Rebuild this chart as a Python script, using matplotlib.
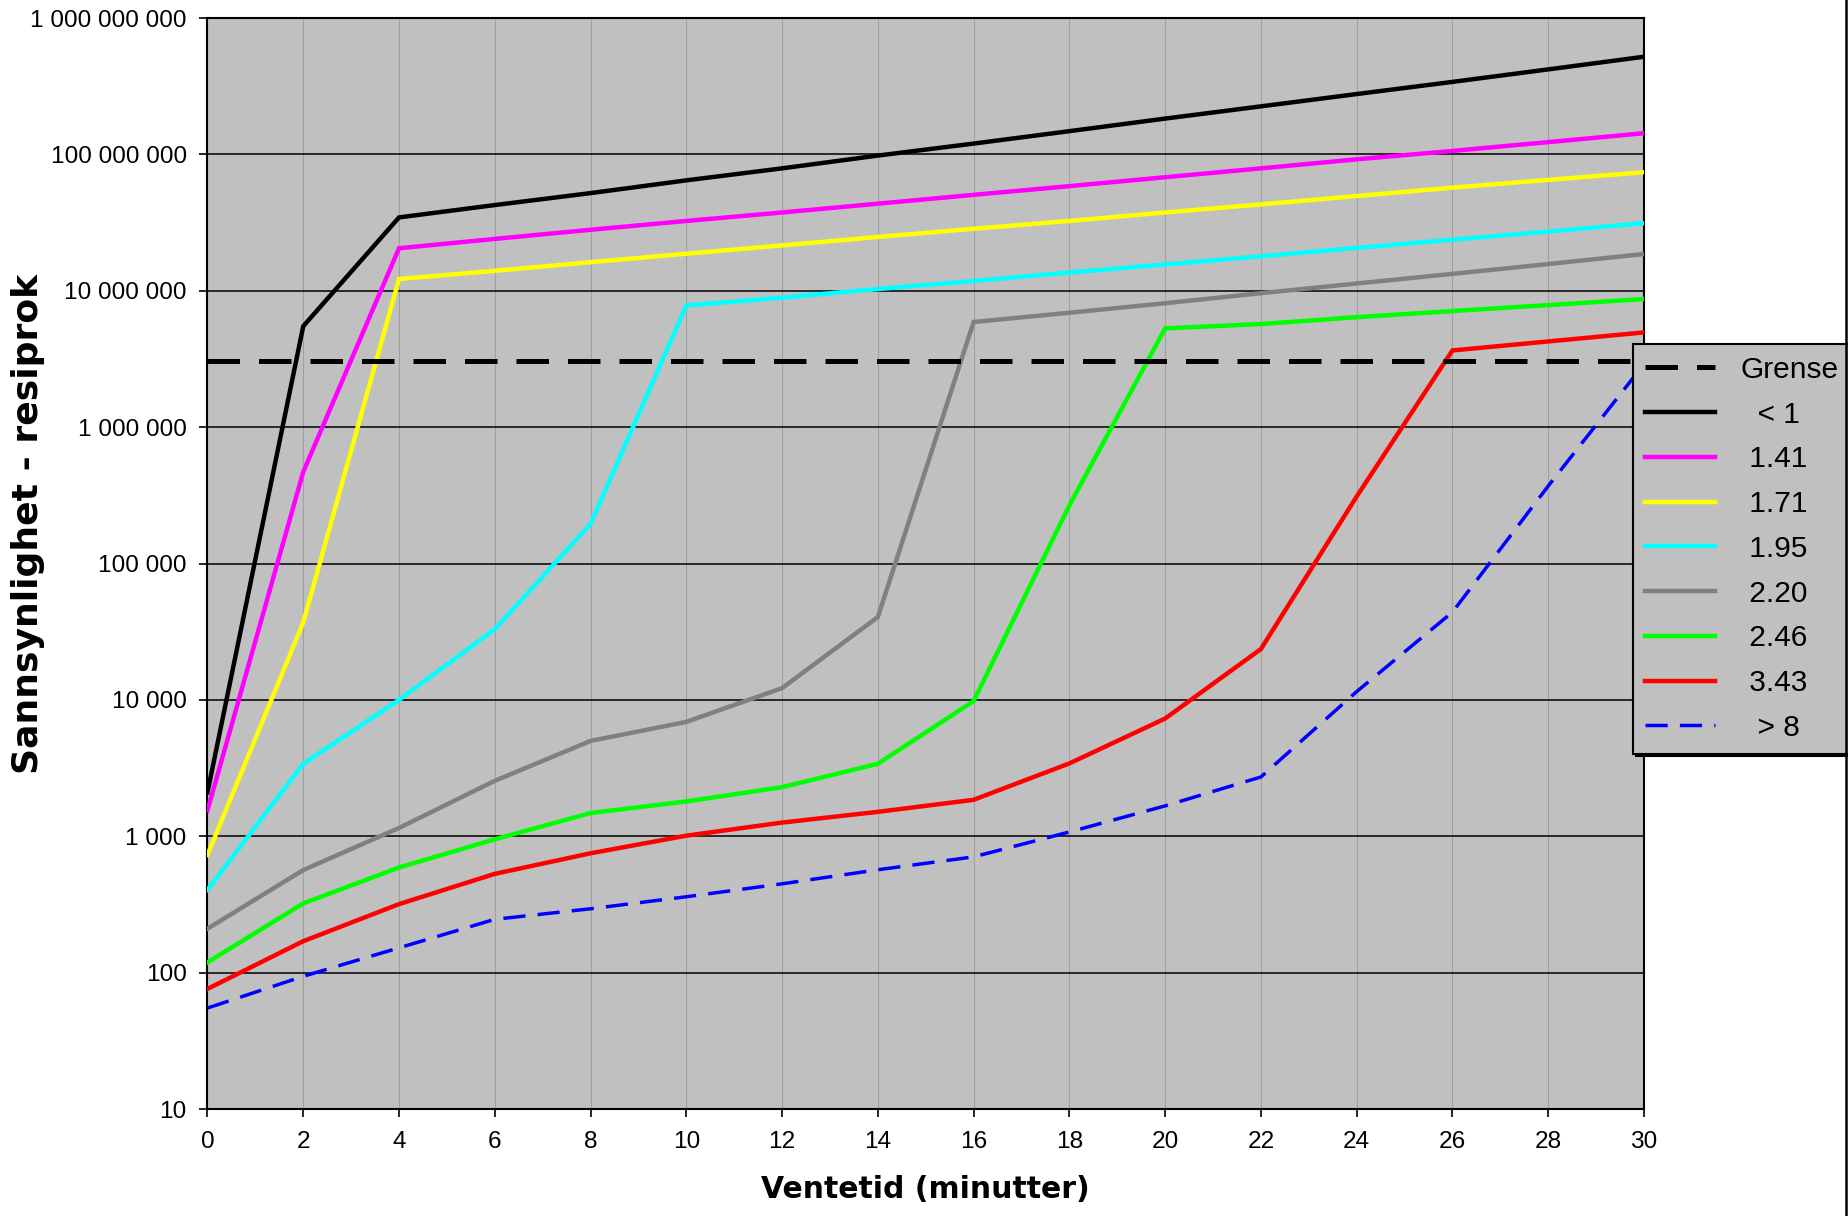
import matplotlib
matplotlib.use('Agg')
import matplotlib.pyplot as plt
from matplotlib.lines import Line2D

# data (log scale values)
minutes = [0, 2, 4, 6, 8, 10, 12, 14, 16, 18, 20, 22, 24, 26, 28, 30]
grense = 3.04e6
s_lt1 = [2100, 5.5e6, 3.45e7, 4.25e7, 5.2e7, 6.45e7, 7.9e7, 9.8e7, 1.2e8, 1.48e8, 1.83e8, 2.25e8, 2.77e8, 3.4e8, 4.2e8, 5.2e8]
s_141 = [1550, 4.7e5, 2.05e7, 2.4e7, 2.8e7, 3.25e7, 3.75e7, 4.35e7, 5.05e7, 5.85e7, 6.8e7, 7.9e7, 9.2e7, 1.06e8, 1.23e8, 1.43e8]
s_171 = [730, 3.7e4, 1.22e7, 1.4e7, 1.62e7, 1.87e7, 2.15e7, 2.48e7, 2.85e7, 3.25e7, 3.75e7, 4.3e7, 4.95e7, 5.7e7, 6.5e7, 7.4e7]
s_195 = [405, 3400, 1.0e4, 3.3e4, 1.95e5, 7.8e6, 8.9e6, 1.03e7, 1.18e7, 1.36e7, 1.56e7, 1.79e7, 2.06e7, 2.37e7, 2.72e7, 3.13e7]
s_220 = [210, 565, 1150, 2550, 5000, 6900, 1.22e4, 4.05e4, 5.9e6, 6.9e6, 8.1e6, 9.6e6, 1.13e7, 1.33e7, 1.57e7, 1.86e7]
s_246 = [119, 322, 590, 950, 1480, 1800, 2290, 3400, 9800, 2.67e5, 5.3e6, 5.7e6, 6.4e6, 7.1e6, 7.85e6, 8.7e6]
s_343 = [76, 170, 318, 530, 750, 1010, 1260, 1510, 1850, 3420, 7300, 2.36e4, 3.1e5, 3.65e6, 4.25e6, 4.95e6]
s_gt8 = [55, 94, 152, 246, 294, 360, 448, 568, 706, 1075, 1670, 2720, 1.15e4, 4.4e4, 3.7e5, 2.9e6]

labels = ['Grense', '  < 1', ' 1.41', ' 1.71', ' 1.95', ' 2.20', ' 2.46', ' 3.43', '  > 8']
ytick_vals = [10, 100, 1e3, 1e4, 1e5, 1e6, 1e7, 1e8, 1e9]
ytick_labels = ['10', '100', '1 000', '10 000', '100 000', '1 000 000',
                '10 000 000', '100 000 000', '1 000 000 000']

plt.rcParams['font.family'] = ['Liberation Sans', 'DejaVu Sans']

fig = plt.figure(figsize=(18.49, 12.16), dpi=100)
ax = fig.add_axes([0.11222, 0.08799, 0.77690, 0.89720])
ax.set_facecolor('#c0c0c0')

series = [
    (s_lt1, 'black'),
    (s_141, '#ff00ff'),
    (s_171, '#ffff00'),
    (s_195, '#00ffff'),
    (s_220, '#808080'),
    (s_246, '#00ff00'),
    (s_343, '#ff0000'),
]
handles = []
for vals, col in series:
    h, = ax.plot(minutes, vals, color=col, lw=3.2, solid_joinstyle='miter', zorder=3)
    handles.append(h)
hb, = ax.plot(minutes, s_gt8, color='#0000ff', lw=2.5, dashes=(6.4, 3.5), zorder=3)
handles.append(hb)
hg, = ax.plot([minutes[0], minutes[-1]], [grense, grense], color='black', lw=3.6,
              dashes=(6.5, 3.8), zorder=4)
handles = [hg] + handles

ax.set_yscale('log')
ax.set_ylim(10, 1e9)
ax.set_xlim(0, 30)
ax.set_xticks(minutes)
ax.set_xticklabels([str(m) for m in minutes])
ax.set_yticks(ytick_vals)
ax.set_yticklabels(ytick_labels)
ax.yaxis.set_minor_locator(matplotlib.ticker.NullLocator())

ax.grid(axis='y', color='black', lw=1.1, zorder=1)
ax.grid(axis='x', color='#a0a0a0', lw=0.8, zorder=1)
ax.set_axisbelow(True)
for sp in ax.spines.values():
    sp.set_color('black')
    sp.set_linewidth(1.5)
ax.tick_params(axis='both', direction='out', length=6, width=1.2, labelsize=17.6, color='black')
ax.tick_params(axis='x', pad=9.5)
ax.tick_params(axis='y', pad=9)

ax.set_xlabel('Ventetid (minutter)', family='DejaVu Sans', fontweight='bold', fontsize=21.5, va='center')
ax.xaxis.set_label_coords(0.5, -0.0742)
ax.set_ylabel('Sannsynlighet - resiprok', family='DejaVu Sans', fontweight='bold', fontsize=26, va='center')
ax.yaxis.set_label_coords(-0.125, 0.536)

leg = ax.legend(handles, labels, loc='upper left', bbox_to_anchor=(0.8832, 0.7171),
                bbox_transform=fig.transFigure, borderaxespad=0, fontsize=21.5,
                fancybox=False, framealpha=1, facecolor='#c0c0c0', edgecolor='black',
                handlelength=2.35, handletextpad=0.85, labelspacing=0.56, borderpad=0.4,
                shadow={'color': 'black', 'alpha': 1})
leg.get_frame().set_linewidth(1.5)

# right border of the chart area
fig.add_artist(Line2D([1846 / 1849, 1846 / 1849], [0, 1], color='black', lw=1.8,
                      transform=fig.transFigure))

fig.savefig('out.png', dpi=100, facecolor='white')
